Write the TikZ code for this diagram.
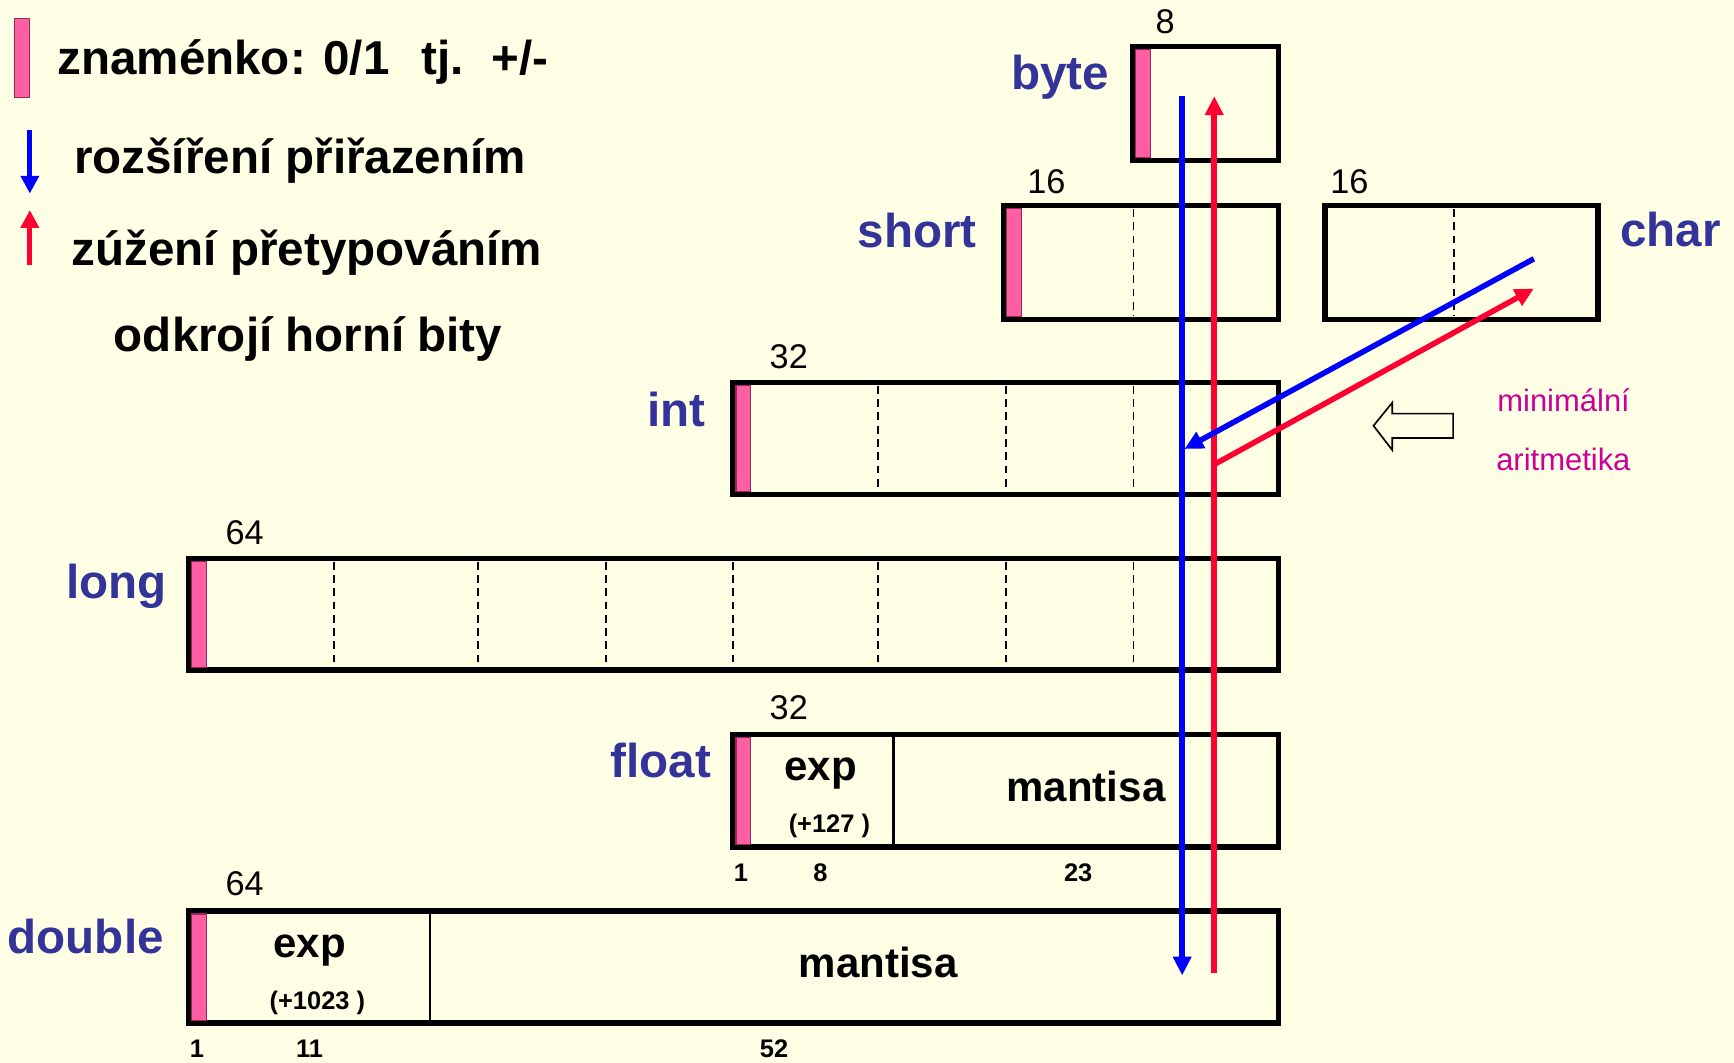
\documentclass[tikz,border=0pt]{standalone}
\usepackage{fontspec}
\setmainfont{Liberation Sans}
\usetikzlibrary{arrows.meta}
\definecolor{bgcol}{RGB}{255,255,230}
\definecolor{lblblue}{RGB}{51,51,153}
\definecolor{signpink}{RGB}{255,95,162}
\definecolor{signedge}{RGB}{150,40,90}
\definecolor{arrblue}{RGB}{0,0,255}
\definecolor{arrred}{RGB}{255,0,51}
\definecolor{magtext}{RGB}{204,0,153}
\newcommand\fsz[1]{\fontsize{#1pt}{#1pt}\selectfont}
\begin{document}
\begin{tikzpicture}[x=1pt,y=-1pt,
  every node/.style={inner sep=0pt, outer sep=0pt},
  membox/.style={draw=black, line width=5pt, anchor=north west},
  pinkbar/.style={fill=signpink, draw=signedge, line width=1pt},
  divdash/.style={draw=black, line width=1.7pt, dash pattern=on 7pt off 5pt},
  divsolid/.style={draw=black, line width=2pt},
  bigtxt/.style={font=\fsz{43}\bfseries, text=black},
  lbl/.style={font=\fsz{43}\bfseries, text=lblblue},
  widthnum/.style={font=\fsz{31}, text=black, anchor=base west},
  fieldtxt/.style={font=\fsz{38}\bfseries, text=black, anchor=base},
  smalltxt/.style={font=\fsz{23}\bfseries, text=black, anchor=base},
  magtxt/.style={font=\fsz{28}, text=magtext, anchor=base west},
  bluearr/.style={draw=arrblue, line width=5pt, -{Triangle[length=17pt,width=16pt]}},
  redarr/.style={draw=arrred, line width=5pt, -{Triangle[length=17pt,width=16pt]}},
  legblue/.style={draw=arrblue, line width=4.5pt, -{Triangle[length=16pt,width=16pt]}},
  legred/.style={draw=arrred, line width=4.5pt, -{Triangle[length=16pt,width=16pt]}}
]
\fill[bgcol] (0,0) rectangle (1568,961);
\useasboundingbox (0,0) rectangle (1568,961);

% ---------- legend ----------
\fill[pinkbar] (13,17) rectangle (27,88);
\node[bigtxt, anchor=base west] (sgn) at (52,67) {znaménko: 0/1\hspace{29pt}tj.\hspace{25pt}+/-};
\coordinate (lbt) at (27,118);
\coordinate (lbb) at (27,175);
\draw[legblue] (lbt) -- (lbb);
\node[bigtxt, anchor=base west] (widen) at (67,157) {rozšíření přiřazením};
\coordinate (lrb) at (27,240);
\coordinate (lrt) at (27,190);
\draw[legred] (lrb) -- (lrt);
\node[bigtxt, anchor=base west] (narrow) at (65,240) {zúžení přetypováním};
\node[bigtxt, anchor=base west] (cut) at (103,318) {odkrojí horní bity};

% ---------- boxes ----------
\node[membox, minimum width=132pt, minimum height=103pt] (byte) at (1024,42) {};
\node[membox, minimum width=248pt, minimum height=103pt] (short) at (908,186) {};
\node[membox, minimum width=247pt, minimum height=103pt] (char) at (1198,186) {};
\node[membox, minimum width=493pt, minimum height=101pt] (int) at (663,346) {};
\node[membox, minimum width=985pt, minimum height=101pt] (long) at (171,505) {};
\node[membox, minimum width=493pt, minimum height=102pt] (float) at (663,664) {};
\node[membox, minimum width=985pt, minimum height=101pt] (double) at (171,824) {};

% sign bits
\foreach \b in {byte,short,int,long,float,double}{
  \fill[pinkbar] ([shift={(2.5,2.5)}]\b.north west) rectangle ([shift={(16,-2.5)}]\b.south west);
}

% dividers
\draw[divdash] (1025,189) -- (1025,286);
\draw[divdash] (1315,189) -- (1315,286);
\foreach \xx in {794,910,1025}{\draw[divdash] (\xx,349) -- (\xx,444);}
\foreach \xx in {302,432,548,663,794,910,1025}{\draw[divdash] (\xx,508) -- (\xx,603);}
\draw[divsolid] (808,666) -- (808,764);
\draw[divsolid] (389,826) -- (389,923);

% type labels
\node[lbl, anchor=base east] (lbyte) at (1003,81) {byte};
\node[lbl, anchor=base east] (lshort) at (883,224) {short};
\node[lbl, anchor=base west] (lchar) at (1465,223) {char};
\node[lbl, anchor=base east] (lint) at (638,386) {int};
\node[lbl, anchor=base east] (llong) at (151,541) {long};
\node[lbl, anchor=base east] (lfloat) at (643,703) {float};
\node[lbl, anchor=base east] (ldouble) at (148,862) {double};

% widths
\node[widthnum] (n8) at (1045,30) {8};
\node[widthnum] (n16a) at (929,175) {16};
\node[widthnum] (n16b) at (1203,175) {16};
\node[widthnum] (n32a) at (696,333) {32};
\node[widthnum] (n64a) at (204,492) {64};
\node[widthnum] (n32b) at (696,651) {32};
\node[widthnum] (n64b) at (204,810) {64};

% float fields
\node[fieldtxt] (fexp) at (742,706) {exp};
\node[smalltxt] (fbias) at (750,753) {(+127 )};
\node[fieldtxt] (fman) at (982,725) {mantisa};
\node[smalltxt] (f1) at (670,797) {1};
\node[smalltxt] (f8) at (742,797) {8};
\node[smalltxt] (f23) at (975,797) {23};

% double fields
\node[fieldtxt] (dexp) at (280,866) {exp};
\node[smalltxt] (dbias) at (287,913) {(+1023 )};
\node[fieldtxt] (dman) at (794,884) {mantisa};
\node[smalltxt] (d1) at (178,956) {1};
\node[smalltxt] (d11) at (280,956) {11};
\node[smalltxt] (d52) at (700,956) {52};

% minimal arithmetic
\draw[line width=1.5pt, fill=bgcol] (1242,385) -- (1259,364) -- (1259,374) -- (1314,374) -- (1314,396) -- (1259,396) -- (1259,407) -- cycle;
\node[magtxt] (minim) at (1354,372) {minimální};
\node[magtxt] (arit) at (1353,425) {aritmetika};

% conversion arrows
\coordinate (bt) at (1069,87);
\coordinate (bb) at (1069,882);
\draw[bluearr] (bt) -- (bb);
\coordinate (rb) at (1098,880);
\coordinate (rt) at (1098,87);
\draw[redarr] (rb) -- (rt);
\coordinate (cb) at (1387,234);
\coordinate (ib) at (1071,406);
\draw[bluearr] (cb) -- (ib);
\coordinate (ir) at (1098,420);
\coordinate (cr) at (1387,261);
\draw[redarr] (ir) -- (cr);
\end{tikzpicture}
\end{document}
